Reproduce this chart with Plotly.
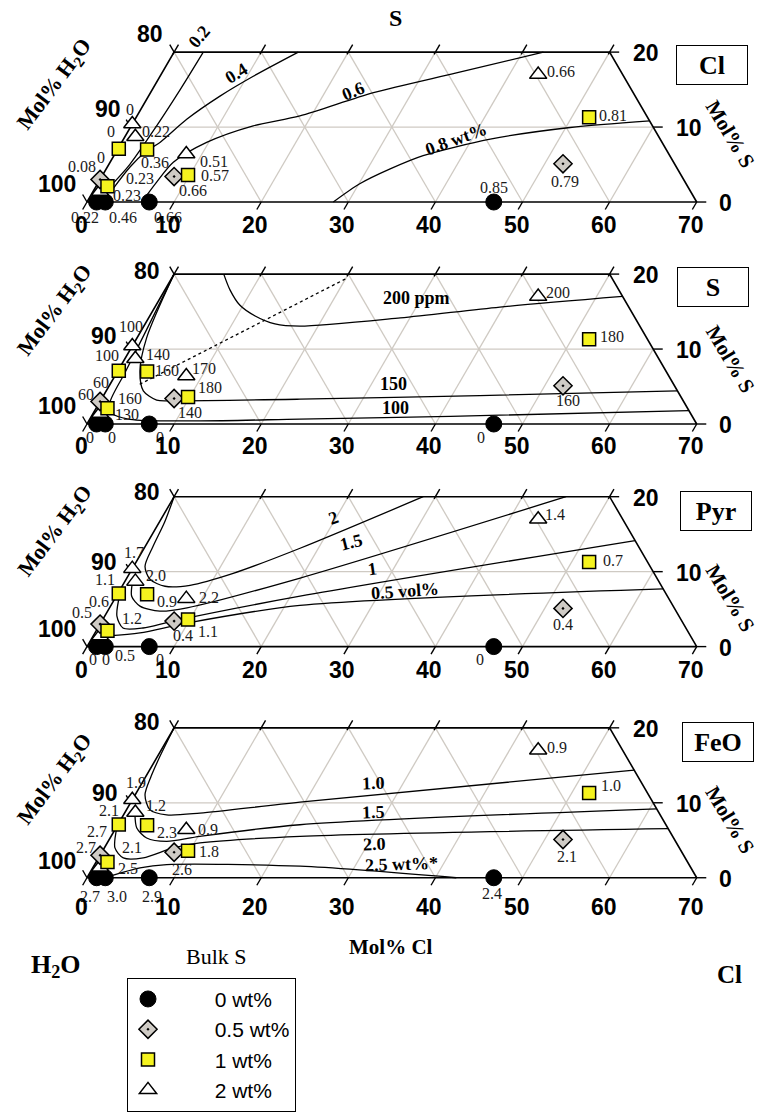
import math
import plotly.graph_objects as go

# ---------------- data (mol% Cl, mol% S) ----------------
CIRCLE_CL = [1.1, 2.1, 7.15, 46.7]          # bulk S 0 wt%
CIRCLE_S = [0.0, 0.0, 0.0, 0.0]
DIAMOND_CL = [0.0, 8.3, 52.1]                # bulk S 0.5 wt%
DIAMOND_S = [3.0, 3.4, 5.1]
SQUARE_CL = [0.1, 3.4, 1.3, 9.8, 52.0]       # bulk S 1 wt%
SQUARE_S = [7.1, 7.0, 2.1, 3.6, 11.3]
TRIANGLE_CL = [0.8, 0.0, 1.2, 8.2, 43.3]     # bulk S 2 wt%
TRIANGLE_S = [1.4, 10.4, 8.7, 6.4, 17.0]

PANELS = ["Cl", "S", "Pyr", "FeO"]

# label slots -> which point each value belongs to
SLOTS = [("C", 0), ("C", 1), ("C", 2), ("C", 3), ("D", 0), ("D", 0), ("D", 1), ("D", 2),
         ("Q", 0), ("Q", 1), ("Q", 2), ("Q", 3), ("Q", 4),
         ("T", 0), ("T", 1), ("T", 2), ("T", 3), ("T", 4)]
VALUES_CL = ["0.22", "0.46", "0.66", "0.85", "0", "0.08", "0.66", "0.79",
             "0", "0.36", "0.23", "0.57", "0.81", "0.23", "0", "0.22", "0.51", "0.66"]
VALUES_S = ["0", "0", "0", "0", "60", "60", "140", "160",
            "100", "160", "130", "180", "180", "160", "100", "140", "170", "200"]
VALUES_PYR = ["0", "0", "0", "0", "0.6", "0.5", "0.4", "0.4",
              "1.1", "0.9", "0.5", "1.1", "0.7", "1.2", "1.7", "2.0", "2.2", "1.4"]
VALUES_FEO = ["2.7", "3.0", "2.9", "2.4", "2.7", "2.7", "2.6", "2.1",
              "2.1", "2.3", "2.5", "1.8", "1.0", "2.1", "1.9", "1.2", "0.9", "0.9"]

# contour lines (mol% Cl, mol% S)
CL02_CL = [3.35, 3.2, 2.9, 2.4, 1.6]
CL02_S = [20, 15, 10, 5, 2]
CL04_CL = [14.26, 10.7, 8.2, 5.93, 4.4, 3.45, 2.6, 2.1]
CL04_S = [20, 16.78, 14.13, 11.04, 7.95, 6.8, 4.68, 1.76]
CL06_CL = [6.3, 6.67, 7.26, 9.76, 14.0, 18.7, 25.6, 33.8, 42.4]
CL06_S = [0, 2.65, 5.3, 7.95, 10.16, 11.48, 14.58, 17.23, 20]
CL08_CL = [28.28, 30.1, 32.6, 35.5, 42.1, 50.5, 59.2]
CL08_S = [0, 2.43, 4.41, 6.18, 8.39, 9.94, 10.82]

S100_CL = [0, 0.58, 0.93, 1.2, 2.16, 4.63, 12.76, 24.1, 41.2, 68.2]
S100_S = [20, 12.16, 6.85, 2.88, 1.42, 0.62, 0.42, 0.66, 1.02, 1.78]
S150_CL = [0, 1.1, 2.54, 4.25, 6.41, 8.36, 22.8, 43.2, 65.57]
S150_S = [20, 11.49, 7.08, 4.43, 3.18, 3.1, 3.31, 3.8, 4.43]
S200_CL = [5.7, 7.5, 9.6, 12.1, 14.9, 17.9, 28.9, 39.6, 52.98]
S200_S = [20, 17.86, 15.87, 14.41, 13.35, 13.05, 14.15, 15.6, 17.02]
SDOT_CL = [3.4, 20.1]
SDOT_S = [5.3, 19.45]

P2_CL = [0, 0.6, 0.9, 1.31, 2.74, 4.93, 7.74, 11.9, 17.9, 28.6]
P2_S = [20, 16.66, 13.35, 10.7, 8.98, 8.05, 8.18, 9.77, 13.12, 20]
P15_CL = [0.79, 1.77, 3.38, 6.0, 8.9, 19.9, 45.0]
P15_S = [8.98, 6.72, 5.4, 4.73, 5.17, 9.15, 20]
P1_CL = [0.23, 1.4, 2.89, 5.19, 8.17, 21.1, 55.85]
P1_S = [7.12, 4.07, 2.48, 2.48, 3.41, 6.72, 14.15]
P05_CL = [1.7, 5.17, 9.9, 21.7, 62.31]
P05_S = [1.42, 1.82, 3.14, 5.49, 7.69]

F10_CL = [0, 0.3, 0.6, 1.14, 2.71, 4.95, 8.66, 19.4, 55.64]
F10_S = [20, 16, 13.5, 11.04, 9.05, 8.39, 8.62, 10.08, 14.36]
F15_CL = [1.31, 2.4, 4.2, 6.72, 10.2, 20.9, 60.81]
F15_S = [8.39, 6.63, 5.3, 4.85, 5.52, 7.07, 9.19]
F20_CL = [0.1, 1.22, 2.84, 5.13, 7.92, 10.65, 21.7, 63.46]
F20_S = [6.63, 3.98, 2.65, 2.65, 3.98, 4.64, 5.52, 6.54]
F25_CL = [2.5, 5.42, 8.27, 23.7, 42.4]
F25_S = [0.21, 1.33, 1.76, 1.54, 0.0]

CONTOURS = [
    [(CL02_CL, CL02_S, "solid"), (CL04_CL, CL04_S, "solid"), (CL06_CL, CL06_S, "solid"), (CL08_CL, CL08_S, "solid")],
    [(S100_CL, S100_S, "solid"), (S150_CL, S150_S, "solid"), (S200_CL, S200_S, "solid"), (SDOT_CL, SDOT_S, "dot")],
    [(P2_CL, P2_S, "solid"), (P15_CL, P15_S, "solid"), (P1_CL, P1_S, "solid"), (P05_CL, P05_S, "solid")],
    [(F10_CL, F10_S, "solid"), (F15_CL, F15_S, "solid"), (F20_CL, F20_S, "solid"), (F25_CL, F25_S, "solid")],
]
# contour labels: text, Cl, S, angle
CONTOUR_LABELS = [
    [("0.2", 1.9, 22.1, -50), ("0.4", 8.6, 17.2, -31), ("0.6", 23.2, 14.8, -22), ("0.8 wt%", 38.2, 8.4, -20)],
    [("200 ppm", 29.4, 16.8, 0), ("150", 32.5, 5.3, 0), ("100", 34.3, 2.2, 0)],
    [("2", 19.7, 17.1, -20), ("1.5", 23.45, 13.9, -14), ("1", 27.6, 10.3, -8), ("0.5 vol%", 32.8, 7.4, -4)],
    [("1.0", 26.6, 12.6, -2), ("1.5", 28.45, 8.8, -2), ("2.0", 30.8, 4.5, -2), ("2.5 wt%*", 35.2, 1.9, -2)],
]

CL_TICKS = [0, 10, 20, 30, 40, 50, 60, 70]
S_TICKS = [0, 10, 20]
H2O_TICKS = [100, 90, 80]

# ---------------- layout constants ----------------
W, H = 762, 1112
PX = 8.71          # pixels per mol% along the base
X0 = 87.0          # pixel of the H2O corner
BOTTOMS = [203.3, 426.7, 650.7, 883.3]
SQ3 = math.sqrt(3) / 2

SERIF = "Liberation Serif, Times New Roman, serif"
SANS = "Liberation Sans, Arial, sans-serif"

# label offsets (dx, dy in px, dy downwards) per panel, in slot order
OFFSETS = [
    [(-11.6, 15), (18, 15), (18.7, 15), (0, -15), (1.4, -21.7), (-17.6, -12.7), (19, 14), (2, 18),
     (-8, -17), (8, 13), (19.4, 9.4), (27, 0), (24, -2), (40, -13), (-2, -15), (21, -5), (28, 7), (23, -3)],
    [(-6.6, 13.3), (6.4, 13.3), (10.7, 13.3), (-13, 13.3), (1, -19), (-14, -7.4), (16, 13.6), (4.7, 15),
     (-11.6, -15), (20, -1), (19.4, 6), (21.7, -9.4), (22.7, -2.4), (30, -14.7), (-1.7, -20), (22.6, -4.4), (18, -8), (20, -4.4)],
    [(-3.3, 13.3), (0.7, 13.3), (10.7, 13.3), (-13.8, 13.3), (-1, -23), (-17.6, -11.4), (8.7, 14.6), (0, 16),
     (-13.3, -14), (20, 7), (17.7, 24.6), (20, 11.6), (24, -1.7), (31.7, -17.7), (1.6, -15.7), (21, -6), (23, -1), (16.7, -5)],
    [(-6.6, 18.4), (11.4, 18.4), (2.4, 18.4), (-2, 16), (-2.6, -24), (-14.3, -8), (7.7, 17), (3.7, 16.7),
     (-10, -14), (20, 7.6), (21, 6), (21, 0.7), (21.7, -7.6), (31.7, -19.7), (3.3, -17.7), (21, -7), (21.6, 0), (18.4, -3.3)],
]
BOTTOM_LABEL_DY = [23, 22, 23, 29]
H2O_LABEL_OFF = [
    [(-30, -18), (-23, -18), (-24, -17.7)],
    [(-30, -18.4), (-27, -13), (-27.4, -2.7)],
    [(-30, -17.4), (-27, -10), (-27.4, -5)],
    [(-30, -16.6), (-25.5, -9.6), (-27.4, -6)],
]
H2O_TITLE_Y = [86, 313, 535, 785]
S_TITLE_Y = [135, 361.5, 602, 825]
BOX_POS = [(712, 65), (713, 289), (716, 514.5), (717.5, 746.5)]


def tx(cl, s):
    return [None if c is None else c + v / 2 for c, v in zip(cl, s)]


def ty(s):
    return [None if v is None else v * SQ3 for v in s]


def paper_text(px, py, text, **kw):
    d = dict(x=px / W, y=1 - py / H, xref="paper", yref="paper", text=text, showarrow=False,
             xanchor="center", yanchor="middle")
    d.update(kw)
    return d


fig = go.Figure()
annotations = []

for p, b in enumerate(BOTTOMS):
    n = "" if p == 0 else str(p + 1)
    xa, ya = "x" + n, "y" + n

    # ---- grey grid ----
    gcl, gs = [], []
    for c in [10, 20, 30, 40, 50, 60]:
        top = min(20, 70 - c)
        gcl += [c, c, None]
        gs += [0, top, None]
    for h in [80, 70, 60, 50, 40]:
        gcl += [100 - h, 80 - h, None]
        gs += [0, 20, None]
    gcl += [0, 60, None]
    gs += [10, 10, None]
    fig.add_trace(go.Scatter(x=tx(gcl, gs), y=ty(gs), mode="lines", xaxis=xa, yaxis=ya,
                             line=dict(color="#cfcac3", width=1.3), hoverinfo="skip", showlegend=False))

    # ---- frame and ticks ----
    fcl = [0, 70, 50, 0, 0]
    fs = [0, 0, 20, 20, 0]
    fig.add_trace(go.Scatter(x=tx(fcl, fs), y=ty(fs), mode="lines", xaxis=xa, yaxis=ya,
                             line=dict(color="black", width=1.6), hoverinfo="skip", showlegend=False))
    tcl, ts = [], []
    for c in CL_TICKS:
        tcl += [c, c, None]
        ts += [0, -1.0, None]
    for c in [0, 10, 20, 30, 40, 50]:
        tcl += [c, c, None]
        ts += [19.7, 21.0, None]
    for sv in S_TICKS:
        tcl += [70 - sv, 71.1 - sv, None]
        ts += [sv, sv, None]
    for h in H2O_TICKS:
        sv = 100 - h
        tcl += [0, -1.0, None]
        ts += [sv, sv + 1.0, None]
    fig.add_trace(go.Scatter(x=tx(tcl, ts), y=ty(ts), mode="lines", xaxis=xa, yaxis=ya,
                             line=dict(color="black", width=1.4), hoverinfo="skip", showlegend=False))

    # ---- contours ----
    for ccl, cs, dash in CONTOURS[p]:
        fig.add_trace(go.Scatter(x=tx(ccl, cs), y=ty(cs), mode="lines", xaxis=xa, yaxis=ya,
                                 line=dict(color="black", width=1.3, dash=dash, shape="spline", smoothing=0.8),
                                 hoverinfo="skip", showlegend=False))
    for text, lcl, ls, ang in CONTOUR_LABELS[p]:
        annotations.append(dict(x=lcl + ls / 2, y=ls * SQ3, xref=xa, yref=ya, text="<b>%s</b>" % text,
                                showarrow=False, textangle=ang, font=dict(family=SERIF, size=18, color="black")))

    # ---- markers ----
    show = p == 0
    fig.add_trace(go.Scatter(x=tx(CIRCLE_CL, CIRCLE_S), y=ty(CIRCLE_S), mode="markers", xaxis=xa, yaxis=ya,
                             name="\u00a0" * 8 + "0 wt%", legendgroup="c", showlegend=show,
                             marker=dict(symbol="circle", size=16, color="black", line=dict(color="black", width=1))))
    fig.add_trace(go.Scatter(x=tx(TRIANGLE_CL, TRIANGLE_S), y=ty(TRIANGLE_S), mode="markers", xaxis=xa, yaxis=ya,
                             name="\u00a0" * 8 + "2 wt%", legendgroup="t", showlegend=False,
                             marker=dict(symbol="triangle-up", size=15, color="white", line=dict(color="black", width=1.5))))
    fig.add_trace(go.Scatter(x=tx(DIAMOND_CL, DIAMOND_S), y=ty(DIAMOND_S), mode="markers", xaxis=xa, yaxis=ya,
                             name="\u00a0" * 8 + "0.5 wt%", legendgroup="d", showlegend=show,
                             marker=dict(symbol="diamond-dot", size=14, color="#cfcbc5", line=dict(color="black", width=1.5))))
    fig.add_trace(go.Scatter(x=tx(SQUARE_CL, SQUARE_S), y=ty(SQUARE_S), mode="markers", xaxis=xa, yaxis=ya,
                             name="\u00a0" * 8 + "1 wt%", legendgroup="q", showlegend=show,
                             marker=dict(symbol="square", size=13, color="#f5f31f", line=dict(color="black", width=1.5))))
    if show:
        fig.add_trace(go.Scatter(x=[None], y=[None], mode="markers", xaxis=xa, yaxis=ya,
                                 name="\u00a0" * 8 + "2 wt%", legendgroup="t", showlegend=True,
                                 marker=dict(symbol="triangle-up", size=15, color="white", line=dict(color="black", width=1.5))))

    # ---- value labels ----
    pts = {"C": (CIRCLE_CL, CIRCLE_S), "D": (DIAMOND_CL, DIAMOND_S),
           "Q": (SQUARE_CL, SQUARE_S), "T": (TRIANGLE_CL, TRIANGLE_S)}
    vals = [VALUES_CL, VALUES_S, VALUES_PYR, VALUES_FEO][p]
    for (key, idx), val, (dx, dy) in zip(SLOTS, vals, OFFSETS[p]):
        cl, s = pts[key][0][idx], pts[key][1][idx]
        annotations.append(dict(x=cl + s / 2, y=s * SQ3, xref=xa, yref=ya, text=val, showarrow=False,
                                xanchor="center", yanchor="middle",
                                xshift=dx, yshift=-dy, font=dict(family=SERIF, size=16, color="#1a1a1a")))

    # ---- axis numbers ----
    for c in CL_TICKS:
        annotations.append(dict(x=c, y=0, xref=xa, yref=ya, text="<b>%d</b>" % c, showarrow=False,
                                xanchor="center", yanchor="middle",
                                xshift=-6, yshift=-BOTTOM_LABEL_DY[p], font=dict(family=SANS, size=23, color="black")))
    for sv, dx in zip(S_TICKS, [29, 36, 36]):
        annotations.append(dict(x=(70 - sv) + sv / 2, y=sv * SQ3, xref=xa, yref=ya, text="<b>%d</b>" % sv,
                                showarrow=False, xanchor="center", yanchor="middle",
                                xshift=dx, yshift=-1, font=dict(family=SANS, size=23, color="black")))
    for h, (dx, dy) in zip(H2O_TICKS, H2O_LABEL_OFF[p]):
        sv = 100 - h
        annotations.append(dict(x=sv / 2, y=sv * SQ3, xref=xa, yref=ya, text="<b>%d</b>" % h, showarrow=False,
                                xanchor="center", yanchor="middle",
                                xshift=dx, yshift=-dy, font=dict(family=SANS, size=23, color="black")))

    # ---- titles ----
    annotations.append(paper_text(55, H2O_TITLE_Y[p], "<b>Mol% H<sub>2</sub>O</b>", textangle=-53,
                                  font=dict(family=SERIF, size=22, color="black")))
    annotations.append(paper_text(730, S_TITLE_Y[p], "<b>Mol% S</b>", textangle=59,
                                  font=dict(family=SERIF, size=21, color="black")))
    bx, by = BOX_POS[p]
    annotations.append(paper_text(bx, by, "<b>%s</b>" % PANELS[p], width=68, height=36, bordercolor="black",
                                  borderwidth=1, bgcolor="white", font=dict(family=SERIF, size=26, color="black")))

annotations += [
    paper_text(395, 18, "<b>S</b>", font=dict(family=SERIF, size=24, color="black")),
    paper_text(391, 953, "<b>Mol% Cl</b>", font=dict(family=SERIF, size=21, color="black")),
    paper_text(56, 972, "<b>H<sub>2</sub>O</b>", font=dict(family=SERIF, size=26, color="black")),
    paper_text(729, 981, "<b>Cl</b>", font=dict(family=SERIF, size=25, color="black")),
    paper_text(217, 963, "Bulk S", font=dict(family=SERIF, size=22, color="black")),
]

lay = dict(width=W, height=H, margin=dict(l=0, r=0, t=0, b=0), paper_bgcolor="white",
           plot_bgcolor="rgba(0,0,0,0)", annotations=annotations,
           legend=dict(x=127 / W, y=1 - 984 / H, xanchor="left", yanchor="top", bordercolor="black",
                       borderwidth=1, bgcolor="white", font=dict(family=SANS, size=21, color="black"),
                       tracegroupgap=0, traceorder="normal"))
for p, b in enumerate(BOTTOMS):
    n = "" if p == 0 else str(p + 1)
    lay["xaxis" + n] = dict(domain=[0, 1], range=[-X0 / PX, (W - X0) / PX], visible=False,
                            anchor="y" + n, fixedrange=True)
    lay["yaxis" + n] = dict(domain=[0, 1], range=[-(H - b) / PX, b / PX], visible=False,
                            anchor="x" + n, fixedrange=True)
fig.update_layout(**lay)
fig.write_html("out.html")
